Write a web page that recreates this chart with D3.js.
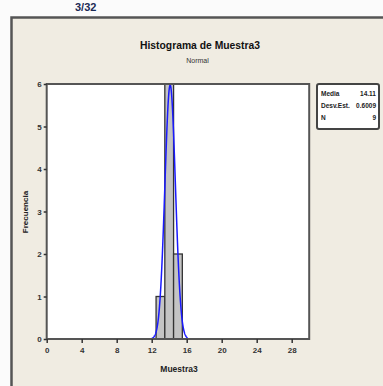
<!DOCTYPE html>
<html><head><meta charset="utf-8">
<script src="https://cdn.jsdelivr.net/npm/d3@7"></script>
<style>html,body{margin:0;padding:0;background:#fbfbfb;overflow:hidden}</style>
</head><body>
<script>
const binStarts = [12.5, 13.5, 14.5];
const binCounts = [1, 6, 2];
const binWidth = 1;
const xTicks = [0, 4, 8, 12, 16, 20, 24, 28];
const yTicks = [0, 1, 2, 3, 4, 5, 6];
const statLabels = ["Media", "Desv.Est.", "N"];
const statValues = ["14.11", "0.6009", "9"];
const mean = 14.11, sd = 0.6009, n = 9;
const curveRange = [12.0, 16.1];

const W = 383, H = 386;
const svg = d3.select("body").append("svg").attr("width", W).attr("height", H);

// heading text at top
svg.append("text").attr("x", 75).attr("y", 11).attr("font-family", "Liberation Sans, Arial")
  .attr("font-size", 11).attr("font-weight", "bold").attr("fill", "#1a2a55").text("3/32");

// panel
svg.append("rect").attr("x", 13).attr("y", 19).attr("width", 400).attr("height", 400)
  .attr("fill", "#d8d8d8");
svg.append("rect").attr("x", 11.5).attr("y", 17.5).attr("width", 400).attr("height", 400)
  .attr("fill", "#f0ece2").attr("stroke", "#555").attr("stroke-width", 2.5);

const x = d3.scaleLinear().domain([0, 30]).range([46.7, 309.2]);
const y = d3.scaleLinear().domain([0, 6]).range([339, 84]);

// plot area
svg.append("rect").attr("x", x(0)).attr("y", y(6)).attr("width", x(30) - x(0)).attr("height", y(0) - y(6))
  .attr("fill", "#fff");

// bars
svg.append("g").selectAll("rect").data(binStarts).join("rect")
  .attr("x", (d) => x(d)).attr("width", (d) => x(d + binWidth) - x(d))
  .attr("y", (d, i) => y(binCounts[i])).attr("height", (d, i) => y(0) - y(binCounts[i]))
  .attr("fill", "#c4c4c4").attr("stroke", "#333").attr("stroke-width", 1.3);

// normal curve
const pts = d3.range(curveRange[0], curveRange[1] + 1e-9, 0.02).map(v =>
  [v, n * binWidth * Math.exp(-0.5 * ((v - mean) / sd) ** 2) / (sd * Math.sqrt(2 * Math.PI))]);
svg.append("path").datum(pts)
  .attr("d", d3.line().x(d => x(d[0])).y(d => y(d[1])))
  .attr("fill", "none").attr("stroke", "#1a1aff").attr("stroke-width", 1.5);

// frame
svg.append("rect").attr("x", x(0)).attr("y", y(6)).attr("width", x(30) - x(0)).attr("height", y(0) - y(6))
  .attr("fill", "none").attr("stroke", "#555").attr("stroke-width", 2);

// axes
const fontF = "Liberation Sans Narrow, Liberation Sans, Arial";
const xAxis = svg.append("g").attr("transform", `translate(0,${y(0)})`)
  .call(d3.axisBottom(x).tickValues(xTicks).tickSize(4).tickPadding(4).tickFormat(d3.format("d")));
const yAxis = svg.append("g").attr("transform", `translate(${x(0)},0)`)
  .call(d3.axisLeft(y).tickValues(yTicks).tickSize(3).tickPadding(2).tickFormat(d3.format("d")));
[xAxis, yAxis].forEach(g => {
  g.select(".domain").remove();
  g.selectAll("line").attr("stroke", "#333").attr("stroke-width", 1.5);
  g.selectAll("text").attr("font-family", fontF).attr("font-size", 8).attr("font-weight", "bold").attr("fill", "#333");
});

// titles
svg.append("text").attr("x", 200).attr("y", 49).attr("text-anchor", "middle")
  .attr("font-family", fontF).attr("font-size", 10.5).attr("font-weight", "bold").attr("fill", "#111")
  .attr("textLength", 120).attr("lengthAdjust", "spacingAndGlyphs").text("Histograma de Muestra3");
svg.append("text").attr("x", 197.5).attr("y", 63).attr("text-anchor", "middle")
  .attr("font-family", fontF).attr("font-size", 7).attr("fill", "#333").text("Normal");
svg.append("text").attr("x", 179).attr("y", 372).attr("text-anchor", "middle")
  .attr("font-family", fontF).attr("font-size", 8.5).attr("font-weight", "bold").attr("fill", "#222").text("Muestra3");
svg.append("text").attr("transform", "translate(28,212) rotate(-90)").attr("text-anchor", "middle")
  .attr("font-family", fontF).attr("font-size", 8).attr("font-weight", "bold").attr("fill", "#222").text("Frecuencia");

// legend box
svg.append("rect").attr("x", 317).attr("y", 84).attr("width", 62).attr("height", 45).attr("rx", 2)
  .attr("fill", "#fff").attr("stroke", "#444").attr("stroke-width", 2);
const lg = svg.append("g");
statLabels.forEach((s, i) => {
  lg.append("text").attr("x", 321).attr("y", 96 + i * 12).attr("font-family", fontF).attr("font-size", 6.5)
    .attr("font-weight", "bold").attr("fill", "#222").text(s);
  lg.append("text").attr("x", 376).attr("y", 96 + i * 12).attr("text-anchor", "end").attr("font-family", fontF)
    .attr("font-size", 6.5).attr("font-weight", "bold").attr("fill", "#222").text(statValues[i]);
});
</script>
</body></html>
